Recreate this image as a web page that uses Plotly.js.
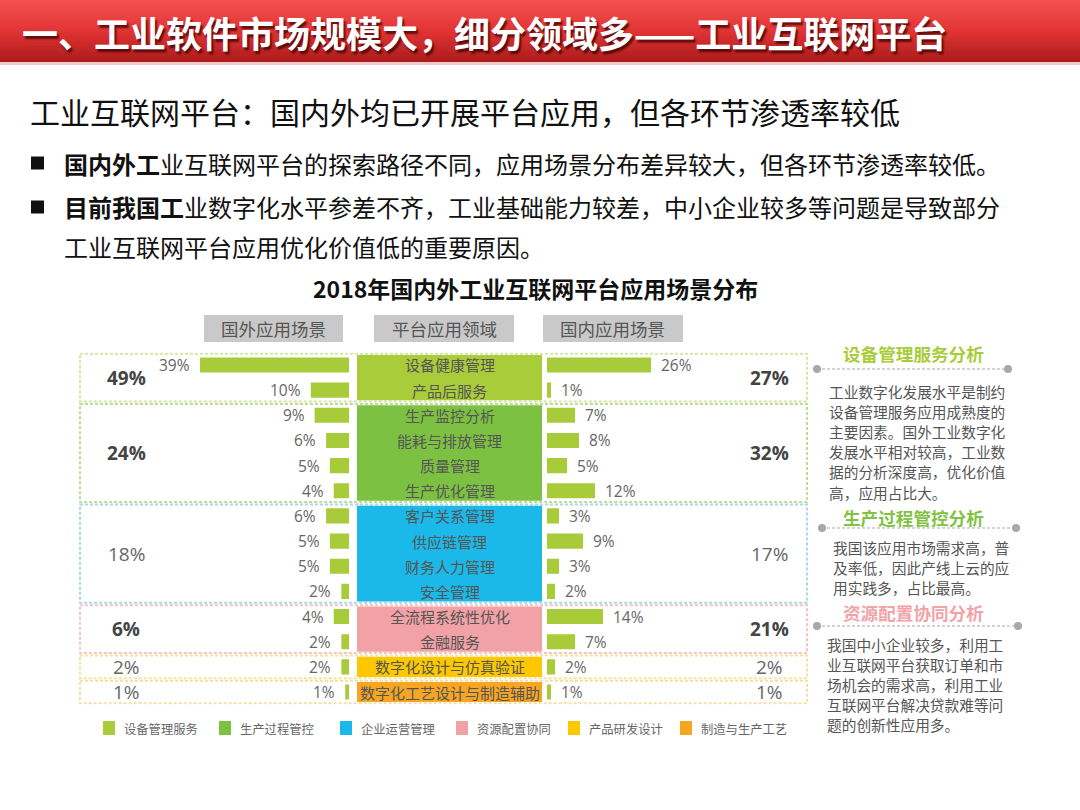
<!DOCTYPE html>
<html><head><meta charset="utf-8">
<script src="https://cdn.plot.ly/plotly-3.0.1.min.js"></script>
<style>html,body{margin:0;padding:0;background:#fff}#chart{width:1080px;height:810px}</style>
</head><body><div id="chart"></div>
<script>
// ---------------- DATA ----------------
const scenarios = ['设备健康管理','产品后服务','生产监控分析','能耗与排放管理','质量管理','生产优化管理','客户关系管理','供应链管理','财务人力管理','安全管理','全流程系统性优化','金融服务','数字化设计与仿真验证','数字化工艺设计与制造辅助'];
const foreignShare  = [39,10,9,6,5,4,6,5,5,2,4,2,2,1];
const domesticShare = [26,1,7,8,5,12,3,9,3,2,14,7,2,1];
const groupNames = ['设备管理服务','生产过程管控','企业运营管理','资源配置协同','产品研发设计','制造与生产工艺'];
const groupSizes = [2,4,4,2,1,1];
const foreignTotals  = [49,24,18,6,2,1];
const domesticTotals = [27,32,17,21,2,1];
const columnHeaders = ['国外应用场景','平台应用领域','国内应用场景'];
const pageTitle = '一、工业软件市场规模大，细分领域多——工业互联网平台';
const subTitle = '工业互联网平台：国内外均已开展平台应用，但各环节渗透率较低';
const bulletLines = [
  '<b>国内外工</b>业互联网平台的探索路径不同，应用场景分布差异较大，但各环节渗透率较低。',
  '<b>目前我国工</b>业数字化水平参差不齐，工业基础能力较差，中小企业较多等问题是导致部分',
  '工业互联网平台应用优化价值低的重要原因。'
];
const chartTitle = '2018年国内外工业互联网平台应用场景分布';
const analysisTitles = ['设备管理服务分析','生产过程管控分析','资源配置协同分析'];
const analysisText = [
  ['工业数字化发展水平是制约','设备管理服务应用成熟度的','主要因素。国外工业数字化','发展水平相对较高，工业数','据的分析深度高，优化价值','高，应用占比大。'],
  ['我国该应用市场需求高，普','及率低，因此产线上云的应','用实践多，占比最高。'],
  ['我国中小企业较多，利用工','业互联网平台获取订单和市','场机会的需求高，利用工业','互联网平台解决贷款难等问','题的创新性应用多。']
];

// ---------------- STYLE / LAYOUT ----------------
const W = 1080, H = 810;
const px = v => v / W;
const py = v => 1 - v / H;
const CJK = '"Noto Sans CJK SC", "Noto Sans", sans-serif';
const NUM = '"Open Sans", "Noto Sans CJK SC", sans-serif';
const barColor = '#a8cb3a';
const groupColors = ['#a9cc3a','#7dc143','#1bb9e9','#f2a1a6','#fdc800','#f6a623'];
const boxColors   = ['#d3e6a2','#bedd98','#a6d9ec','#f4c3c5','#f6e39a','#f4e0a4'];
const totalBold   = [true,true,false,true,false,false];
const analysisColors = ['#a9cc3a','#80c242','#f2a3a8'];

const shapes = [];
const annotations = [];
function ann(text, x, y, size, color, anchor, extra) {
  return Object.assign({text, x: px(x), y: py(y), xref:'paper', yref:'paper', showarrow:false,
    xanchor: anchor || 'left', yanchor:'middle', font:{family:CJK, size, color}}, extra || {});
}

// header gradient band
const bandH = 62, steps = 31;
function lerp(a,b,t){return Math.round(a+(b-a)*t);}
function grad(t){
  const c0=[244,80,80], c1=[226,52,52], c2=[172,28,28];
  let a,b,u; if(t<0.5){a=c0;b=c1;u=t/0.5;} else {a=c1;b=c2;u=(t-0.5)/0.5;}
  return `rgb(${lerp(a[0],b[0],u)},${lerp(a[1],b[1],u)},${lerp(a[2],b[2],u)})`;
}
for (let i=0;i<steps;i++){
  const y0=i*bandH/steps, y1=(i+1)*bandH/steps+0.6;
  shapes.push({type:'rect',xref:'paper',yref:'paper',x0:0,x1:1,y0:py(y1),y1:py(y0),fillcolor:grad(i/(steps-1)),line:{width:0},layer:'below'});
}
shapes.push({type:'rect',xref:'paper',yref:'paper',x0:0,x1:1,y0:py(65),y1:py(62),fillcolor:'#f3c8c8',line:{width:0},layer:'below'});

annotations.push(ann(pageTitle, 20, 32, 36, '#ffffff', 'left',
  {font:{family:CJK,size:36,color:'#ffffff',weight:700,shadow:'2px 3px 2px rgba(60,0,0,0.75)'}}));

// subtitle & bullets
annotations.push(ann(subTitle, 28, 111, 30, '#111'));
const bulletY = [163, 207, 247];
[0,1].forEach(i=>{
  shapes.push({type:'rect',xref:'paper',yref:'paper',x0:px(31),x1:px(44),y0:py(bulletY[i]+6.5),y1:py(bulletY[i]-6.5),fillcolor:'#111',line:{width:0}});
});
bulletLines.forEach((t,i)=>annotations.push(ann(t, 62, bulletY[i], 24, '#111')));
annotations.push(ann(chartTitle, 535, 288, 23, '#111', 'center', {font:{family:CJK,size:23,color:'#111',weight:700}}));

// column header boxes
const hdrX = [[204,343],[374,514],[543,683]];
hdrX.forEach((r,i)=>{
  shapes.push({type:'rect',xref:'paper',yref:'paper',x0:px(r[0]),x1:px(r[1]),y0:py(342),y1:py(315),fillcolor:'#c9c9c9',line:{width:0}});
  annotations.push(ann(columnHeaders[i], (r[0]+r[1])/2, 329, 17.5, '#555', 'center'));
});

// group boxes and center blocks (category index coords)
let start = 0;
const groupCenters = [];
groupSizes.forEach((n,g)=>{
  const a = start - 0.5, b = start + n - 0.5;
  groupCenters.push((a+b)/2);
  shapes.push({type:'rect',xref:'paper',yref:'y',x0:px(80),x1:px(807),y0:a+0.05,y1:b-0.05,
    line:{color:boxColors[g],width:2,dash:'3px,2px'},fillcolor:'rgba(0,0,0,0)',layer:'below'});
  shapes.push({type:'rect',xref:'paper',yref:'y',x0:px(357),x1:px(542),y0:a+0.1,y1:b-0.1,
    fillcolor:groupColors[g],line:{width:0},layer:'below'});
  start += n;
});

// center labels
scenarios.forEach(s=>{
  annotations.push({text:s, x:px(449.5), y:s, xref:'paper', yref:'y', showarrow:false, xanchor:'center', yanchor:'middle',
    font:{family:CJK,size:15,color:'#555'}});
});
// value labels
scenarios.forEach((s,i)=>{
  annotations.push({text:foreignShare[i]+'%', x:foreignShare[i], y:s, xref:'x', yref:'y', showarrow:false,
    xanchor:'right', yanchor:'middle', xshift:-8, font:{family:NUM,size:15.5,color:'#666'}});
  annotations.push({text:domesticShare[i]+'%', x:domesticShare[i], y:s, xref:'x2', yref:'y', showarrow:false,
    xanchor:'left', yanchor:'middle', xshift:8, font:{family:NUM,size:15.5,color:'#666'}});
});
// totals
groupCenters.forEach((c,g)=>{
  const f = {family:NUM,size:19,color: totalBold[g] ? '#444' : '#666', weight: totalBold[g] ? 700 : 400};
  annotations.push({text:foreignTotals[g]+'%', x:px(126), y:c, xref:'paper', yref:'y', showarrow:false, xanchor:'center', yanchor:'middle', font:f});
  annotations.push({text:domesticTotals[g]+'%', x:px(769), y:c, xref:'paper', yref:'y', showarrow:false, xanchor:'center', yanchor:'middle', font:f});
});

// analysis panel
const aTitleY = [353, 517, 612];
const sepY = [369, 528, 626];
const sepX = [[817,1008],[822,1016],[817,1018]];
const bodyX = [827, 831, 825];
const bodyY0 = [391, 547, 644];
const pitch = 20.2;
analysisTitles.forEach((t,i)=>{
  annotations.push(ann(t, 913, aTitleY[i], 17.6, analysisColors[i], 'center', {font:{family:CJK,size:17.6,color:analysisColors[i],weight:700}}));
  shapes.push({type:'line',xref:'paper',yref:'paper',x0:px(sepX[i][0]),x1:px(sepX[i][1]),y0:py(sepY[i]),y1:py(sepY[i]),line:{color:'#a8a8a8',width:1.2,dash:'3px,2px'}});
  sepX[i].forEach(x=>shapes.push({type:'circle',xref:'paper',yref:'paper',x0:px(x-4),x1:px(x+4),y0:py(sepY[i]+4),y1:py(sepY[i]-4),fillcolor:'#a8a8a8',line:{width:0}}));
  analysisText[i].forEach((line,j)=>annotations.push(ann(line, bodyX[i], bodyY0[i]+j*pitch, 14.7, '#555')));
});

// legend
const legendX = [103,219,340,456,568,680];
groupNames.forEach((n,g)=>{
  shapes.push({type:'rect',xref:'paper',yref:'paper',x0:px(legendX[g]),x1:px(legendX[g]+12),y0:py(735),y1:py(721),fillcolor:groupColors[g],line:{width:0}});
  annotations.push(ann(n, legendX[g]+19, 728.5, 12.3, '#666'));
});

// ---------------- TRACES ----------------
const traces = [
  {type:'bar', orientation:'h', x:foreignShare, y:scenarios, xaxis:'x', yaxis:'y', width:0.6,
   marker:{color:barColor}, hoverinfo:'skip', showlegend:false},
  {type:'bar', orientation:'h', x:domesticShare, y:scenarios, xaxis:'x2', yaxis:'y', width:0.6,
   marker:{color:barColor}, hoverinfo:'skip', showlegend:false}
];

const hidden = {showgrid:false, zeroline:false, showline:false, showticklabels:false, ticks:'', fixedrange:true};
const layout = {
  width:W, height:H, margin:{l:0,r:0,t:0,b:0}, paper_bgcolor:'#ffffff', plot_bgcolor:'rgba(0,0,0,0)',
  showlegend:false,
  xaxis: Object.assign({domain:[px(149),px(349)], range:[52.36,0], anchor:'y'}, hidden),
  xaxis2: Object.assign({domain:[px(547),px(747)], range:[0,50], anchor:'y'}, hidden),
  yaxis: Object.assign({domain:[py(704.6),py(352.4)], type:'category', categoryorder:'array', categoryarray:scenarios, range:[13.5,-0.5], anchor:'x'}, hidden),
  shapes, annotations
};
Plotly.newPlot('chart', traces, layout, {displayModeBar:false, staticPlot:true});
</script></body></html>
